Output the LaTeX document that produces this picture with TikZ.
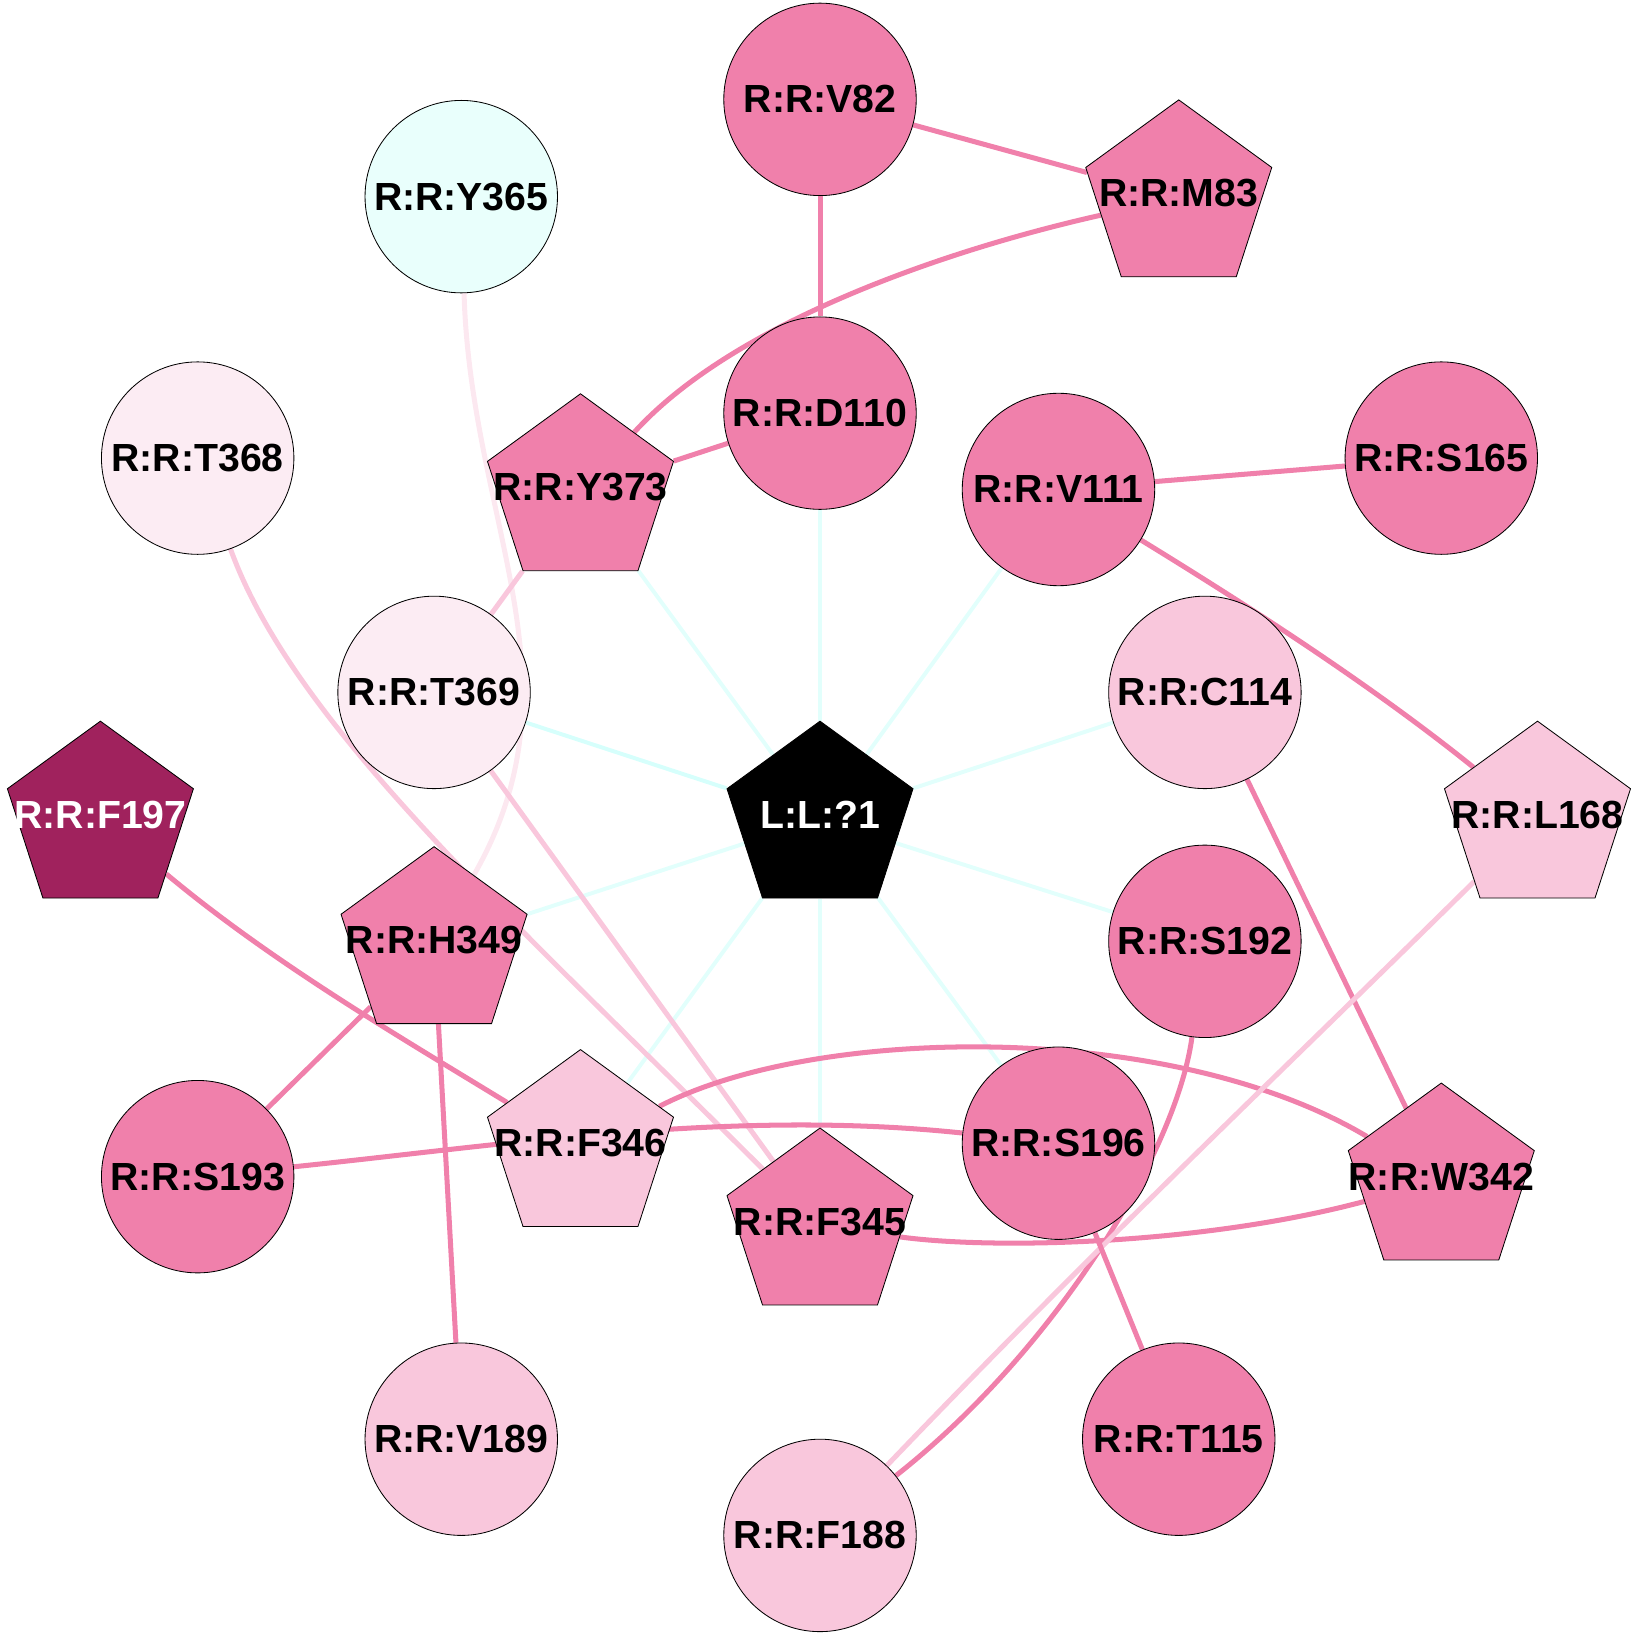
\documentclass[tikz,border=0pt]{standalone}
\usepackage{fontspec}
\setmainfont{Liberation Sans}
\usetikzlibrary{shapes.geometric}
\pgfdeclarelayer{background}
\pgfsetlayers{background,main}
\definecolor{pinkA}{RGB}{240,128,171}
\definecolor{pinkB}{RGB}{249,199,220}
\definecolor{pinkC}{RGB}{252,236,243}
\definecolor{cyanN}{RGB}{233,255,252}
\definecolor{darkP}{RGB}{160,34,93}
\definecolor{eStrong}{RGB}{240,128,171}
\definecolor{eLight}{RGB}{249,199,220}
\definecolor{eFaint}{RGB}{252,232,240}
\definecolor{eLig}{RGB}{226,255,252}
\definecolor{eLigB}{RGB}{214,255,252}
\newcommand\lab{\fontsize{37.5}{40}\selectfont\bfseries}
\tikzset{
  circ/.style={circle, draw=black, line width=0.8pt, minimum size=184pt, inner sep=0pt, font=\lab},
  pent/.style={regular polygon, regular polygon sides=5, draw=black, line width=0.8pt, minimum size=187pt, inner sep=0pt},
  plab/.style={label={[font=\lab, yshift=4pt]center:{#1}}},
  plabw/.style={label={[font=\lab, text=white, yshift=4pt]center:{#1}}},
  es/.style={draw=eStrong, line width=4.8pt},
  el/.style={draw=eLight, line width=4.8pt},
  ef/.style={draw=eFaint, line width=4.8pt},
  lig/.style={draw=eLig, line width=3.8pt},
  ligb/.style={draw=eLigB, line width=3.8pt},
}
\begin{document}
\begin{tikzpicture}[x=1pt, y=-1pt]
\useasboundingbox (0,0) rectangle (1568,1568);
% nodes
\node[circ, fill=pinkA] (v82) at (784,95) {R:R:V82};
\node[pent, fill=pinkA, plab={R:R:M83}] (m83) at (1127,189) {};
\node[circ, fill=cyanN] (y365) at (441,188) {R:R:Y365};
\node[circ, fill=pinkA] (d110) at (784,395) {R:R:D110};
\node[circ, fill=pinkC] (t368) at (189,438) {R:R:T368};
\node[pent, fill=pinkA, plab={R:R:Y373}] (y373) at (555,470) {};
\node[circ, fill=pinkA] (v111) at (1012,468) {R:R:V111};
\node[circ, fill=pinkA] (s165) at (1378,438) {R:R:S165};
\node[circ, fill=pinkC] (t369) at (415,662) {R:R:T369};
\node[circ, fill=pinkB] (c114) at (1152,662) {R:R:C114};
\node[pent, fill=black, plabw={L:L:?1}] (lig) at (784,783) {};
\node[pent, fill=darkP, plabw={R:R:F197}] (f197) at (96,783) {};
\node[pent, fill=pinkB, plab={R:R:L168}] (l168) at (1470,783) {};
\node[pent, fill=pinkA, plab={R:R:H349}] (h349) at (415,903) {};
\node[circ, fill=pinkA] (s192) at (1152,900) {R:R:S192};
\node[pent, fill=pinkB, plab={R:R:F346}] (f346) at (555,1097) {};
\node[circ, fill=pinkA] (s196) at (1012,1093) {R:R:S196};
\node[circ, fill=pinkA] (s193) at (189,1125) {R:R:S193};
\node[pent, fill=pinkA, plab={R:R:W342}] (w342) at (1378,1129) {};
\node[pent, fill=pinkA, plab={R:R:F345}] (f345) at (784,1172) {};
\node[circ, fill=pinkB] (v189) at (441,1376) {R:R:V189};
\node[circ, fill=pinkA] (t115) at (1127,1376) {R:R:T115};
\node[circ, fill=pinkB] (f188) at (784,1468) {R:R:F188};
% edges
\begin{pgfonlayer}{background}
\draw[lig] (lig) -- (y373);
\draw[lig] (lig) -- (d110);
\draw[lig] (lig) -- (v111);
\draw[ligb] (lig) -- (t369);
\draw[lig] (lig) -- (c114);
\draw[lig] (lig) -- (h349);
\draw[lig] (lig) -- (s192);
\draw[lig] (lig) -- (f346);
\draw[lig] (lig) -- (f345);
\draw[lig] (lig) -- (s196);
\draw[es] (v82) -- (m83);
\draw[es] (v82) -- (d110);
\draw[es] (m83) .. controls (900,240) and (700,310) .. (y373);
\draw[es] (y373) -- (d110);
\draw[es] (v111) -- (s165);
\draw[es] (v111) .. controls (1198,582) and (1315,658) .. (l168);
\draw[ef] (y365) .. controls (450,500) and (560,650) .. (h349);
\draw[el] (t368) .. controls (280,690) and (480,870) .. (f345);
\draw[el] (y373) -- (t369);
\draw[el] (t369) -- (f345);
\draw[es] (f197) .. controls (260,920) and (380,990) .. (f346);
\draw[es] (h349) -- (s193);
\draw[es] (h349) -- (v189);
\draw[es] (f346) .. controls (780,980) and (1120,975) .. (w342);
\draw[es] (s193) .. controls (480,1095) and (700,1060) .. (s196);
\draw[es] (f345) .. controls (950,1195) and (1150,1190) .. (w342);
\draw[es] (c114) -- (w342);
\draw[es] (s192) .. controls (1125,1100) and (1010,1290) .. (f188);
\draw[el] (l168) .. controls (1230,1020) and (1050,1190) .. (f188);
\draw[es] (s196) -- (t115);
\end{pgfonlayer}
\end{tikzpicture}
\end{document}
